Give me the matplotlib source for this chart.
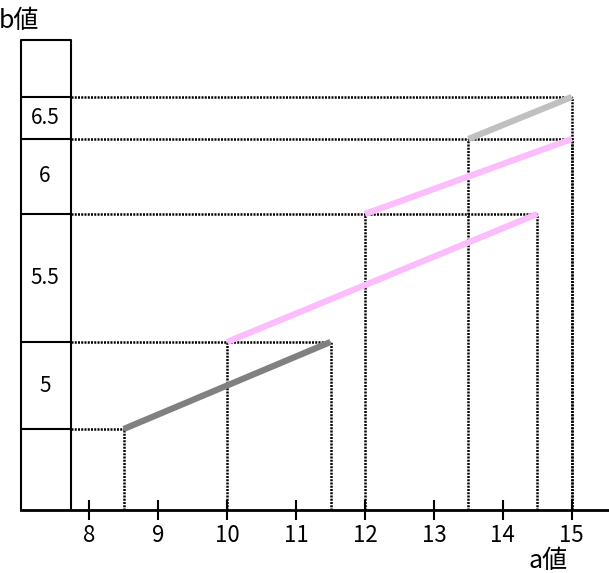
import matplotlib
matplotlib.use("Agg")
import matplotlib.pyplot as plt

plt.rcParams['font.family'] = ['Noto Sans CJK JP', 'DejaVu Sans']

# data
a_ticks = [8, 9, 10, 11, 12, 13, 14, 15]
b_levels = [81, 168, 296, 371, 413]          # heights of the b-levels (chart units)
b_labels = ['5', '5.5', '6', '6.5']
seg_a_start = [8.5, 10, 12, 13.5]
seg_a_end = [11.5, 14.5, 15, 15]
seg_colors = ['#808080', '#fbbdfb', '#fbbdfb', '#c0c0c0']

W, H = 609, 573
fig = plt.figure(figsize=(W/100, H/100), dpi=100)
ax = fig.add_axes([21/W, 63/H, 588/W, 470/H])
x_left, x_right = 7.01, 15.54
box_right = 7.74
top = 470
ax.set_xlim(x_left, x_right)
ax.set_ylim(0, top)

for s in ['top', 'right', 'left']:
    ax.spines[s].set_visible(False)
ax.spines['bottom'].set_linewidth(2)
ax.set_yticks([])
ax.set_xticks(a_ticks)
ax.set_xticklabels([str(t) for t in a_ticks], fontsize=16)
ax.tick_params(axis='x', direction='inout', length=14, width=1.5, pad=3)

# box column
ax.plot([x_left, x_left, box_right, box_right], [0, top, top, 0], color='black', lw=1.5, clip_on=False)
for lv in b_levels:
    ax.plot([x_left, box_right], [lv, lv], color='black', lw=1.5)
for i, lab in enumerate(b_labels):
    ax.text((x_left + box_right)/2 - 0.02, (b_levels[i] + b_levels[i+1])/2, lab,
            ha='center', va='center', fontsize=15)

dot = dict(color='black', lw=1.8, linestyle=(0, (0.8, 0.5)))
# dotted guides
for i in range(4):
    y0, y1 = b_levels[i], b_levels[i+1]
    xs, xe = seg_a_start[i], seg_a_end[i]
    ax.plot([xs, xs], [0, y0], **dot)
    ax.plot([xe, xe], [0, y1], **dot)
# horizontals
level_ends = [seg_a_start[0], max(seg_a_end[0], seg_a_start[1]), max(seg_a_end[1], seg_a_start[2]),
              max(seg_a_end[2], seg_a_start[3]), seg_a_end[3]]
for lv, xe in zip(b_levels, level_ends):
    ax.plot([box_right, xe], [lv, lv], **dot)

# segments
for i in range(4):
    ax.plot([seg_a_start[i], seg_a_end[i]], [b_levels[i], b_levels[i+1]],
            color=seg_colors[i], lw=4.5, solid_capstyle='butt', zorder=3)

fig.text(-1/W, 1 - 21/H, 'b値', fontsize=18, ha='left', va='center')
fig.text(548/W, 1 - 561/H, 'a値', fontsize=18, ha='center', va='center')

fig.savefig('out.png', dpi=100)
